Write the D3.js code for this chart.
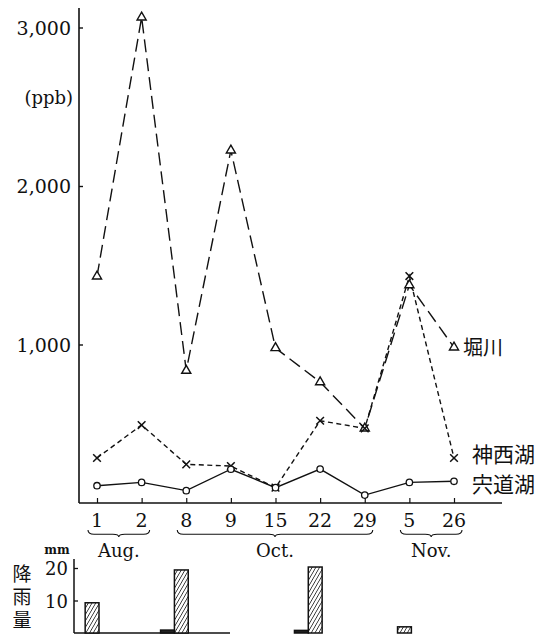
<!DOCTYPE html>
<html><head><meta charset="utf-8">
<script src="https://cdn.jsdelivr.net/npm/d3@7"></script>
<style>
html,body{margin:0;padding:0;background:#fff;}
svg{display:block;}
.num{font-family:"DejaVu Serif","Liberation Serif",serif;fill:#111;}
.cjk{font-family:"Noto Sans CJK JP","Noto Sans CJK SC",sans-serif;fill:#111;}
</style>
</head><body>
<svg id="chart" width="543" height="634"></svg>
<script>
// ---- data ----
const dates = ["1","2","8","9","15","22","29","5","26"];
const monthNames = ["Aug.","Oct.","Nov."];
const monthFirst = [0,2,7];
const monthLast = [1,6,8];
const yTicks = [1000,2000,3000];
const horikawa = [1430,3064,835,2225,978,763,471,1375,982];   // 堀川
const jinzaiko = [284,492,244,233,97,519,471,1432,284];       // 神西湖
const shinjiko = [109,130,78,213,97,214,50,130,137];          // 宍道湖
const seriesNames = ["堀川","神西湖","宍道湖"];
const rainPrev = [0,0,0.9,0,0,0.8,0,0,0];     // mm, day before
const rainLast = [9.3,0,19.4,0,0,20.3,0,1.9,0]; // mm
const rainTicks = [10,20];

const svg = d3.select("#chart");
const x = d3.scalePoint().domain(d3.range(dates.length)).range([97,454]);
const y = d3.scaleLinear().domain([0,3000]).range([503,27.5]);
const yr = d3.scaleLinear().domain([0,20]).range([633,568]);
const step = x.step();

// hatch pattern
const defs = svg.append("defs");
const pat = defs.append("pattern").attr("id","hatch").attr("patternUnits","userSpaceOnUse")
  .attr("width",3.2).attr("height",3.2).attr("patternTransform","rotate(30)");
pat.append("rect").attr("width",3.2).attr("height",3.2).attr("fill","#fff");
pat.append("line").attr("x1",0).attr("y1",0).attr("x2",0).attr("y2",3.2).attr("stroke","#111").attr("stroke-width",1.4);

// ---- main axes ----
const gy = svg.append("g").attr("transform","translate(79,0)")
  .call(d3.axisRight(y).tickValues(yTicks).tickSize(4).tickFormat(""));
gy.select(".domain").remove();
svg.append("line").attr("x1",79).attr("x2",79).attr("y1",8).attr("y2",y(0)).attr("stroke","#111").attr("stroke-width",1.6);
gy.selectAll("line").attr("stroke","#111").attr("stroke-width",1.4);
svg.selectAll(".ylab").data(yTicks).enter().append("text").attr("class","num")
  .attr("x",71).attr("y",d=>y(d)+7).attr("text-anchor","end").attr("font-size",19)
  .text(d3.format(","));
svg.append("text").attr("class","num").attr("x",73).attr("y",104).attr("text-anchor","end")
  .attr("font-size",18).text("(ppb)");

const gx = svg.append("g").attr("transform",`translate(0,${y(0)})`)
  .call(d3.axisTop(x).tickSize(5).tickFormat(""));
gx.select(".domain").remove();
gx.selectAll("line").attr("stroke","#111").attr("stroke-width",1.2);
svg.append("line").attr("x1",79).attr("x2",502).attr("y1",y(0)).attr("y2",y(0)).attr("stroke","#111").attr("stroke-width",1.6);
svg.selectAll(".xlab").data(dates).enter().append("text").attr("class","num")
  .attr("x",(d,i)=>x(i)).attr("y",527).attr("text-anchor","middle").attr("font-size",19).text(d=>d);

// braces
function brace(x1,x2,y0){
  const p = d3.path(), h=7, mid=(x1+x2)/2, r=6;
  p.moveTo(x1,y0);
  p.quadraticCurveTo(x1,y0+h*0.6,x1+r,y0+h*0.6);
  p.lineTo(mid-r,y0+h*0.6);
  p.quadraticCurveTo(mid,y0+h*0.6,mid,y0+h);
  p.quadraticCurveTo(mid,y0+h*0.6,mid+r,y0+h*0.6);
  p.lineTo(x2-r,y0+h*0.6);
  p.quadraticCurveTo(x2,y0+h*0.6,x2,y0);
  return p.toString();
}
monthNames.forEach((m,i)=>{
  const x1 = x(monthFirst[i])-9, x2 = x(monthLast[i])+8;
  svg.append("path").attr("d",brace(x1,x2,530)).attr("fill","none").attr("stroke","#111").attr("stroke-width",1.1);
  svg.append("text").attr("class","num").attr("x",(x1+x2)/2).attr("y",557).attr("text-anchor","middle")
    .attr("font-size",18).text(m);
});

// ---- lines ----
const line = d3.line().x((d,i)=>x(i)).y(d=>y(d));
svg.append("path").datum(horikawa).attr("d",line).attr("fill","none").attr("stroke","#111")
  .attr("stroke-width",1.4).attr("stroke-dasharray","13,6");
svg.append("path").datum(jinzaiko).attr("d",line).attr("fill","none").attr("stroke","#111")
  .attr("stroke-width",1.4).attr("stroke-dasharray","5,3.5");
svg.append("path").datum(shinjiko).attr("d",line).attr("fill","none").attr("stroke","#111")
  .attr("stroke-width",1.4);

// markers
const tri = d3.symbol().type(d3.symbolTriangle).size(36);
svg.selectAll(".tri").data(horikawa).enter().append("path")
  .attr("d",tri).attr("transform",(d,i)=>`translate(${x(i)},${y(d)})`)
  .attr("fill","#fff").attr("stroke","#111").attr("stroke-width",1.4);
svg.selectAll(".crs").data(jinzaiko).enter().append("path")
  .attr("d",d3.symbol().type(d3.symbolX).size(40)).attr("transform",(d,i)=>`translate(${x(i)},${y(d)})`)
  .attr("fill","none").attr("stroke","#111").attr("stroke-width",1.5);
svg.selectAll(".cir").data(shinjiko).enter().append("circle")
  .attr("cx",(d,i)=>x(i)).attr("cy",d=>y(d)).attr("r",3.2)
  .attr("fill","#fff").attr("stroke","#111").attr("stroke-width",1.3);

// series labels
const last = dates.length-1;
svg.append("text").attr("class","cjk").attr("x",x(last)+9).attr("y",y(horikawa[last])+8).attr("font-size",20).text(seriesNames[0]);
svg.append("text").attr("class","cjk").attr("x",472).attr("y",462).attr("font-size",21).text(seriesNames[1]);
svg.append("text").attr("class","cjk").attr("x",472).attr("y",492).attr("font-size",21).text(seriesNames[2]);

// ---- rainfall ----
svg.append("line").attr("x1",74).attr("x2",74).attr("y1",559).attr("y2",yr(0)).attr("stroke","#111").attr("stroke-width",1.5);
svg.append("line").attr("x1",74).attr("x2",230).attr("y1",yr(0)).attr("y2",yr(0)).attr("stroke","#111").attr("stroke-width",1.5);
const gr = svg.append("g").attr("transform","translate(74,0)")
  .call(d3.axisRight(yr).tickValues(rainTicks).tickSize(4).tickFormat(""));
gr.select(".domain").remove();
gr.selectAll("line").attr("stroke","#111").attr("stroke-width",1.3);
svg.selectAll(".rlab").data(rainTicks).enter().append("text").attr("class","num")
  .attr("x",68).attr("y",d=>yr(d)+7).attr("text-anchor","end").attr("font-size",18).text(d=>d);
svg.append("text").attr("class","num").attr("x",57).attr("y",554).attr("text-anchor","middle")
  .attr("font-size",12).attr("font-weight","bold").text("mm");
svg.append("text").attr("class","cjk").attr("x",22).attr("y",564)
  .attr("font-size",19).style("writing-mode","vertical-rl").style("letter-spacing","4px").text("降雨量");
const bw = step*0.31;
rainLast.forEach((v,i)=>{
  if(v>0) svg.append("rect").attr("x",x(i)+2-bw).attr("width",bw).attr("y",yr(v)).attr("height",yr(0)-yr(v))
    .attr("fill","url(#hatch)").attr("stroke","#111").attr("stroke-width",1.5);
  const p = rainPrev[i];
  if(p>0) svg.append("rect").attr("x",x(i)+2-2*bw).attr("width",bw).attr("y",yr(p)).attr("height",yr(0)-yr(p))
    .attr("fill","#222").attr("stroke","#111").attr("stroke-width",1.5);
});
</script>
</body></html>
